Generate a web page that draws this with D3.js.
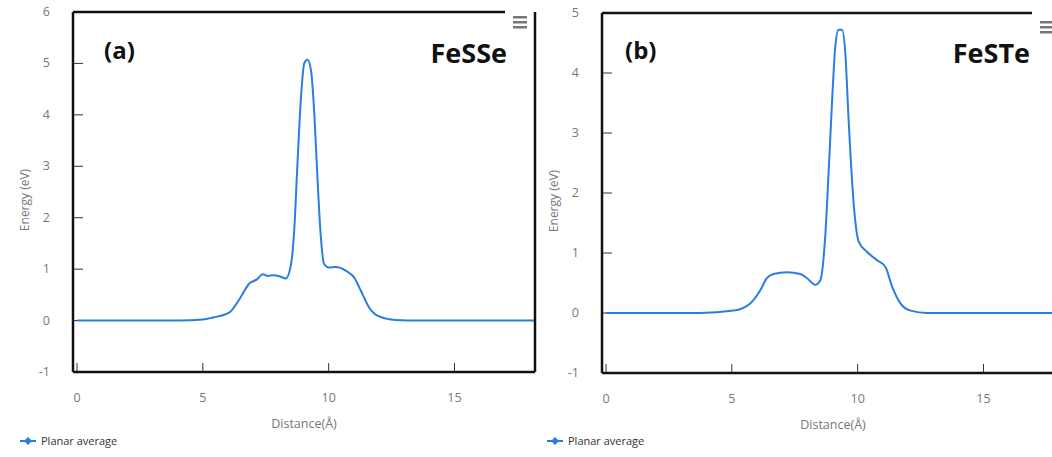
<!DOCTYPE html>
<html><head><meta charset="utf-8">
<script src="https://cdn.jsdelivr.net/npm/d3@7"></script>
<style>body{margin:0;background:#fff}svg{display:block;font-family:"Open Sans",sans-serif}</style>
</head><body><svg id="c" width="1052" height="457"></svg>
<script>
// ---- data ----
const xTicks = [0, 5, 10, 15];
const yTicksA = [-1, 0, 1, 2, 3, 4, 5, 6];
const yTicksB = [-1, 0, 1, 2, 3, 4, 5];
const seriesName = "Planar average";
const panelLabels = ["(a)", "(b)"];
const materials = ["FeSSe", "FeSTe"];

const xA = [0, 1, 2, 3, 4.08, 5.0, 5.40, 6.06, 6.46, 6.85, 7.15, 7.38, 7.58, 7.84, 8.04, 8.30, 8.50, 8.63, 8.76, 8.90, 9.03, 9.16, 9.30, 9.43, 9.56, 9.69, 9.82, 10.02, 10.29, 10.68, 11.01, 11.28, 11.60, 12.00, 12.66, 13.58, 15, 16, 17, 18.2];
const yA = [0, 0, 0, 0, 0.0, 0.02, 0.06, 0.16, 0.42, 0.72, 0.80, 0.90, 0.87, 0.88, 0.86, 0.82, 1.08, 1.75, 3.05, 4.34, 5.0, 5.07, 4.86, 4.02, 2.72, 1.62, 1.10, 1.03, 1.04, 0.97, 0.84, 0.58, 0.26, 0.08, 0.01, 0, 0, 0, 0, 0];

const xB = [0, 1, 2, 3, 3.74, 5.07, 5.73, 6.13, 6.39, 6.66, 7.19, 7.72, 7.99, 8.32, 8.52, 8.71, 8.85, 8.98, 9.11, 9.24, 9.38, 9.51, 9.64, 9.84, 10.04, 10.37, 10.77, 11.10, 11.37, 11.70, 12.10, 12.76, 13.29, 15, 16, 17, 18.2];
const yB = [0, 0, 0, 0, 0, 0.04, 0.16, 0.38, 0.58, 0.65, 0.68, 0.65, 0.58, 0.47, 0.55, 1.27, 2.38, 3.50, 4.44, 4.72, 4.72, 4.33, 3.22, 1.83, 1.19, 1.02, 0.88, 0.77, 0.44, 0.16, 0.04, 0, 0, 0, 0, 0, 0];

const svg = d3.select("#c");
const blue = "#2a7de1";

function panel(o) {
  const g = svg.append("g");
  const x = d3.scaleLinear().domain([-0.16, 18.2]).range([o.left, o.right]);
  const y = d3.scaleLinear().domain(o.ydom).range([o.bottom, o.top]);
  g.selectAll(".yl").data(o.yticks).join("text")
    .attr("x", o.left - 23).attr("y", d => y(d) + 4)
    .attr("text-anchor", "end").attr("font-size", 12.5).attr("fill", "#777").text(d => d);
  g.selectAll(".yt").data(o.yticks.filter(d => d > o.ydom[0] && d < o.ydom[1])).join("line")
    .attr("x1", o.left).attr("x2", o.left + 10).attr("y1", d => y(d)).attr("y2", d => y(d))
    .attr("stroke", "#333").attr("stroke-width", 1);
  g.selectAll(".xl").data(xTicks).join("text")
    .attr("x", d => x(d)).attr("y", o.bottom + 30)
    .attr("text-anchor", "middle").attr("font-size", 12.5).attr("fill", "#777").text(d => d);
  g.selectAll(".xt").data(xTicks).join("line")
    .attr("x1", d => x(d)).attr("x2", d => x(d)).attr("y1", o.bottom).attr("y2", o.bottom - 9)
    .attr("stroke", "#333").attr("stroke-width", 1);
  g.append("text").attr("transform", `translate(${o.left - 44},${(o.top + o.bottom) / 2 + 8}) rotate(-90)`)
    .attr("text-anchor", "middle").attr("font-size", 12).attr("fill", "#777").text("Energy (eV)");
  g.append("text").attr("x", (o.left + o.right) / 2).attr("y", o.bottom + 56)
    .attr("text-anchor", "middle").attr("font-size", 12.5).attr("fill", "#777").text("Distance(Å)");
  const pts = o.xs.map((d, i) => [d, o.ys[i]]);
  g.append("path").datum(pts)
    .attr("d", d3.line().x(d => x(d[0])).y(d => y(d[1])).curve(d3.curveMonotoneX))
    .attr("fill", "none").attr("stroke", blue).attr("stroke-width", 2);
  const fr = (x1, y1, x2, y2) => g.append("line").attr("x1", x1).attr("x2", x2).attr("y1", y1).attr("y2", y2).attr("stroke", "#111").attr("stroke-width", 2.5);
  fr(o.left, o.top, o.topEnd, o.top);
  fr(o.left, o.top, o.left, o.bottom);
  fr(o.left, o.bottom, o.right, o.bottom);
  fr(o.right, o.top, o.right, o.bottom);
  [0, 5, 10].forEach(dy => g.append("rect").attr("x", o.menuX).attr("y", o.menuY + dy).attr("width", 14).attr("height", 2.5).attr("fill", "#777"));
  g.append("text").attr("x", o.labX).attr("y", 59).attr("font-size", 24).attr("font-weight", "bold").attr("fill", "#111").text(o.label);
  g.append("text").attr("x", o.matX).attr("y", 63).attr("font-size", 27).attr("font-weight", "bold").attr("fill", "#111").attr("text-anchor", "end").text(o.mat);
  const lg = g.append("g").attr("transform", `translate(${o.legX},441)`);
  lg.append("line").attr("x1", 0).attr("x2", 16).attr("y1", 0).attr("y2", 0).attr("stroke", blue).attr("stroke-width", 2);
  lg.append("path").attr("d", "M8,-4L12,0L8,4L4,0Z").attr("fill", blue);
  lg.append("text").attr("x", 21).attr("y", 4).attr("font-size", 11).attr("fill", "#333").text(seriesName);
}

panel({left: 73, right: 535, top: 12, bottom: 372, topEnd: 505, ydom: [-1, 6], yticks: yTicksA,
  xs: xA, ys: yA, menuX: 513, menuY: 16, label: panelLabels[0], labX: 104, mat: materials[0], matX: 507, legX: 20});
panel({left: 602, right: 1064, top: 13, bottom: 373, topEnd: 1032, ydom: [-1, 5], yticks: yTicksB,
  xs: xB, ys: yB, menuX: 1040, menuY: 21, label: panelLabels[1], labX: 625, mat: materials[1], matX: 1030, legX: 547});
</script></body></html>
